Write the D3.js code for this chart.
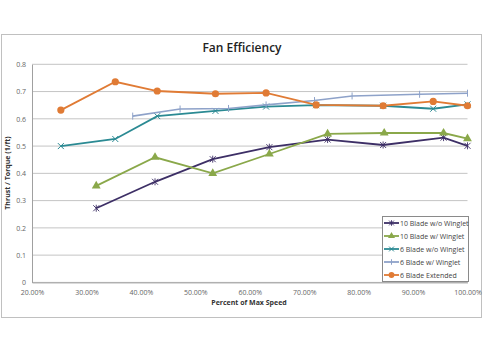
<!DOCTYPE html>
<html><head><meta charset="utf-8">
<script src="https://cdn.jsdelivr.net/npm/d3@7"></script>
<style>body{margin:0;background:#fff}svg{display:block}</style>
</head><body>
<script>
const xTicks = [20,30,40,50,60,70,80,90,100];
const yTicks = [0,0.1,0.2,0.3,0.4,0.5,0.6,0.7,0.8];
const seriesNames = ["10 Blade w/o Winglet","10 Blade w/ Winglet","6 Blade w/o Winglet","6 Blade w/ Winglet","6 Blade Extended"];
const tenNoX = [31.8,42.6,53.2,63.6,74.3,84.5,95.6,100];
const tenNoY = [0.272,0.369,0.452,0.496,0.524,0.504,0.531,0.501];
const tenWX = [31.8,42.6,53.2,63.6,74.3,84.7,95.6,100];
const tenWY = [0.354,0.459,0.400,0.471,0.545,0.548,0.548,0.527];
const sixNoX = [25.3,35.3,43.0,53.7,63.0,72.2,84.5,93.7,100];
const sixNoY = [0.500,0.526,0.610,0.629,0.645,0.650,0.648,0.637,0.653];
const sixWX = [38.5,47.2,56.1,63.0,71.9,78.8,91.2,100];
const sixWY = [0.610,0.636,0.638,0.651,0.667,0.684,0.690,0.694];
const extX = [25.3,35.3,43.0,53.7,63.0,72.2,84.5,93.7,100];
const extY = [0.632,0.736,0.702,0.692,0.695,0.651,0.648,0.664,0.648];

const colors = ["#3d2f66","#8aa84a","#2b8a93","#8ea2c9","#e07b35"];
const markers = ["star","tri","cross","plus","circle"];
const series = [
  {xs:tenNoX, ys:tenNoY},{xs:tenWX, ys:tenWY},{xs:sixNoX, ys:sixNoY},{xs:sixWX, ys:sixWY},{xs:extX, ys:extY}
].map((s,i)=>({name:seriesNames[i], color:colors[i], marker:markers[i], pts:s.xs.map((x,j)=>({x, y:s.ys[j]}))}));

const W=485,H=350;
const svg=d3.select("body").append("svg").attr("width",W).attr("height",H);
const font="'Open Sans', 'Liberation Sans', sans-serif";

svg.append("rect").attr("x",1.5).attr("y",34.5).attr("width",480).attr("height",283).attr("fill","#fff").attr("stroke","#c0c0c0");

const x=d3.scaleLinear().domain([20,100]).range([32,467.5]);
const y=d3.scaleLinear().domain([0,0.8]).range([282.4,64.3]);

// grid
svg.append("g").selectAll("line").data(yTicks).join("line")
  .attr("x1",x(20)).attr("x2",x(100)).attr("y1",d=>y(d)).attr("y2",d=>y(d))
  .attr("stroke","#c4c4c4").attr("stroke-width",1);

// y axis
const ya=svg.append("g").attr("transform",`translate(${x(20)},0)`)
  .call(d3.axisLeft(y).tickValues(yTicks).tickSize(0).tickPadding(6).tickFormat(d=>d===0?"0":d3.format(".1f")(d)));
ya.select(".domain").attr("stroke","#a0a0a0");
ya.selectAll("text").attr("font-family",font).attr("font-size",7).attr("fill","#666");

// x axis
const xa=svg.append("g").attr("transform",`translate(0,${y(0)})`)
  .call(d3.axisBottom(x).tickValues(xTicks).tickSize(0).tickPadding(8).tickFormat(d=>d.toFixed(2)+"%"));
xa.select(".domain").attr("stroke","#a0a0a0");
xa.selectAll("text").attr("font-family",font).attr("font-size",7).attr("fill","#666");

// titles
svg.append("text").attr("x",242).attr("y",52).attr("text-anchor","middle")
  .attr("font-family",font).attr("font-size",12).attr("font-weight",600).attr("fill","#222").text("Fan Efficiency");
svg.append("text").attr("x",249).attr("y",305).attr("text-anchor","middle")
  .attr("font-family",font).attr("font-size",7).attr("font-weight",700).attr("fill","#333").text("Percent of Max Speed");
svg.append("text").attr("transform","translate(10,173) rotate(-90)").attr("text-anchor","middle")
  .attr("font-family",font).attr("font-size",7).attr("font-weight",700).attr("fill","#333").text("Thrust / Torque (1/ft)");

function drawMarker(g, type, color, cx, cy, s){
  if(type==="circle") g.append("circle").attr("cx",cx).attr("cy",cy).attr("r",3.6*s).attr("fill",color);
  else if(type==="tri") g.append("path").attr("d",d3.symbol().type(d3.symbolTriangle).size(34*s*s)()).attr("transform",`translate(${cx},${cy})`).attr("fill",color);
  else if(type==="cross") g.append("path").attr("d",`M${cx-3*s},${cy-3*s}L${cx+3*s},${cy+3*s}M${cx-3*s},${cy+3*s}L${cx+3*s},${cy-3*s}`).attr("stroke",color).attr("stroke-width",1);
  else if(type==="plus") g.append("path").attr("d",`M${cx},${cy-3.5*s}L${cx},${cy+3.5*s}`).attr("stroke",color).attr("stroke-width",1);
  else if(type==="star") g.append("path").attr("d",`M${cx-3*s},${cy-3*s}L${cx+3*s},${cy+3*s}M${cx-3*s},${cy+3*s}L${cx+3*s},${cy-3*s}M${cx},${cy-3.5*s}L${cx},${cy+3.5*s}`).attr("stroke",color).attr("stroke-width",0.9);
}

const line=d3.line().x(d=>x(d.x)).y(d=>y(d.y));
series.forEach(s=>{
  const g=svg.append("g");
  g.append("path").datum(s.pts).attr("d",line).attr("fill","none").attr("stroke",s.color).attr("stroke-width",s.marker==="plus"?1.6:1.8);
  s.pts.forEach(p=>drawMarker(g,s.marker,s.color,x(p.x),y(p.y),1));
});

// legend
const lg=svg.append("g");
lg.append("rect").attr("x",382.5).attr("y",216.5).attr("width",86).attr("height",65).attr("fill","#fff").attr("stroke","#8a8a8a");
series.forEach((s,i)=>{
  const yy=223+i*13;
  lg.append("line").attr("x1",384).attr("x2",399).attr("y1",yy).attr("y2",yy).attr("stroke",s.color).attr("stroke-width",1.8);
  drawMarker(lg,s.marker,s.color,391.5,yy,0.8);
  lg.append("text").attr("x",400).attr("y",yy+2.5).attr("font-family",font).attr("font-size",7).attr("fill","#444").text(s.name);
});
</script>
</body></html>
